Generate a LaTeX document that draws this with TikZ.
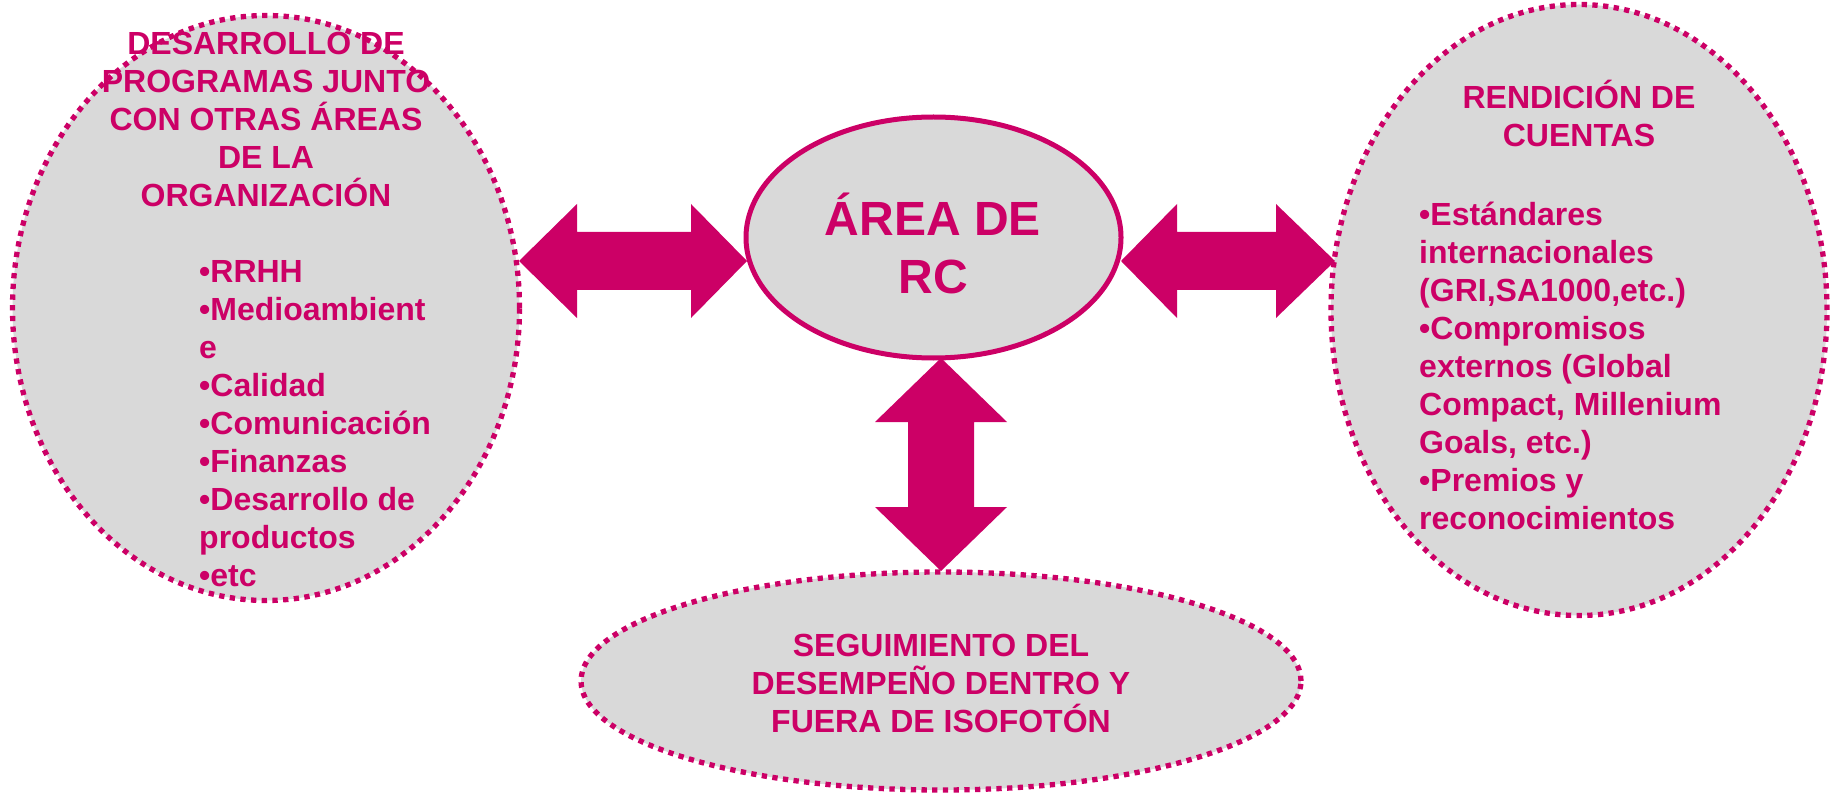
\documentclass[tikz,border=0pt]{standalone}
\usepackage{fontspec}
\setmainfont{Liberation Sans}
\usetikzlibrary{shapes.geometric,calc}
\definecolor{mag}{RGB}{204,0,102}
\definecolor{lgray}{RGB}{217,217,217}
\begin{document}
\begin{tikzpicture}[x=1pt,y=-1pt,
  dotted ell/.style={ellipse,draw=mag,fill=lgray,line width=5.3pt,dash pattern=on 5.3pt off 5.4pt,inner sep=0pt},
  solid ell/.style={ellipse,draw=mag,fill=lgray,line width=5pt,inner sep=0pt},
  txt/.style={text=mag,font=\fontsize{32}{38}\selectfont\bfseries,inner sep=0pt},
  bigtxt/.style={text=mag,font=\fontsize{48}{58}\selectfont\bfseries,inner sep=0pt},
  blockarrow/.style={fill=mag,draw=none}]
\useasboundingbox (0,0) rectangle (1836,794);
% ellipses
\node[dotted ell,minimum width=507pt,minimum height=585pt] (L) at (266,308) {};
\node[dotted ell,minimum width=496pt,minimum height=611pt] (R) at (1579,310) {};
\node[dotted ell,minimum width=720pt,minimum height=218pt] (B) at (941,681) {};
\node[solid ell,minimum width=375pt,minimum height=241pt] (C) at (933.5,237.5) {};
% texts
\node[txt,align=center,anchor=north] (Ltitle) at (266,31.5) {DESARROLLO DE\\PROGRAMAS JUNTO\\CON OTRAS ÁREAS\\DE LA\\ORGANIZACIÓN};
\node[txt,align=left,anchor=north west] (Llist) at (199,260.5) {•RRHH\\•Medioambient\\e\\•Calidad\\•Comunicación\\•Finanzas\\•Desarrollo de\\productos\\•etc};
\node[txt,align=center,anchor=north] (Rtitle) at (1579,79.6) {RENDICIÓN DE\\CUENTAS};
\node[txt,align=left,anchor=north west] (Rlist) at (1419,202) {•Estándares\\internacionales\\(GRI,SA1000,etc.)\\•Compromisos\\externos (Global\\Compact, Millenium\\Goals, etc.)\\•Premios y\\reconocimientos};
\node[txt,align=center,anchor=north] (Btxt) at (941,634) {SEGUIMIENTO DEL\\DESEMPEÑO DENTRO Y\\FUERA DE ISOFOTÓN};
\node[bigtxt,align=center,anchor=north] (Ctxt) at (933,193) {ÁREA DE\\RC};
% arrow tips
\coordinate (la) at (519,261);
\coordinate (lb) at (747,261);
\coordinate (ra) at (1121,261);
\coordinate (rb) at (1335,261);
\coordinate (va) at (941,358);
\coordinate (vb) at (941,571);
% left double arrow
\fill[blockarrow] (la) -- ($(la)+(58,-57)$) -- ($(la)+(58,-29)$) -- ($(lb)+(-56,-29)$) -- ($(lb)+(-56,-57)$) -- (lb)
  -- ($(lb)+(-56,57)$) -- ($(lb)+(-56,29)$) -- ($(la)+(58,29)$) -- ($(la)+(58,57)$) -- cycle;
% right double arrow
\fill[blockarrow] (ra) -- ($(ra)+(56,-57)$) -- ($(ra)+(56,-29)$) -- ($(rb)+(-59,-29)$) -- ($(rb)+(-59,-57)$) -- (rb)
  -- ($(rb)+(-59,57)$) -- ($(rb)+(-59,29)$) -- ($(ra)+(56,29)$) -- ($(ra)+(56,57)$) -- cycle;
% vertical double arrow
\fill[blockarrow] (va) -- ($(va)+(66,64)$) -- ($(va)+(33,64)$) -- ($(vb)+(33,-64)$) -- ($(vb)+(66,-64)$) -- (vb)
  -- ($(vb)+(-66,-64)$) -- ($(vb)+(-33,-64)$) -- ($(va)+(-33,64)$) -- ($(va)+(-66,64)$) -- cycle;
\end{tikzpicture}
\end{document}
